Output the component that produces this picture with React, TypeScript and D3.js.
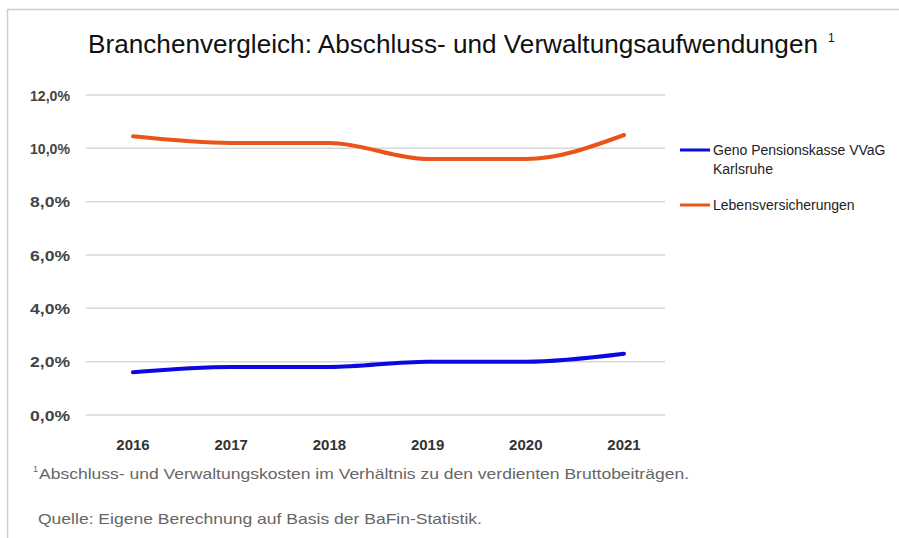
import React from "react";
import * as d3 from "d3";

const years = ["2016", "2017", "2018", "2019", "2020", "2021"];
const genoValues = [1.6, 1.8, 1.8, 2.0, 2.0, 2.3];
const lebenValues = [10.45, 10.2, 10.2, 9.6, 9.6, 10.5];
const yTicks = [0, 2, 4, 6, 8, 10, 12];
const seriesNames = ["Geno Pensionskasse VVaG", "Karlsruhe"];
const seriesNames2 = ["Lebensversicherungen"];
const title = "Branchenvergleich: Abschluss- und Verwaltungsaufwendungen";
const footnote = "Abschluss- und Verwaltungskosten im Verhältnis zu den verdienten Bruttobeiträgen.";
const source = "Quelle: Eigene Berechnung auf Basis der BaFin-Statistik.";

const W = 899;
const H = 538;
const BLUE = "#0a0ae0";
const ORANGE = "#ea5418";

export default function App() {
  const x = d3.scalePoint<string>().domain(years).range([133, 624]);
  const y = d3.scaleLinear().domain([0, 12]).range([415, 95]);
  const fmt = (v: number) => v.toFixed(1).replace(".", ",") + "%";
  const line = d3
    .line<number>()
    .x((_, i) => x(years[i]) as number)
    .y((d) => y(d))
    .curve(d3.curveMonotoneX);

  return (
    <svg
      width={W}
      height={H}
      style={{ position: "absolute", left: 0, top: 0, background: "#fff" }}
      fontFamily="'Liberation Sans', Arial, sans-serif"
    >
      <rect x={0} y={0} width={W} height={H} fill="#fff" />
      <line x1={7} y1={9.5} x2={W} y2={9.5} stroke="#cfcfcf" strokeWidth={1.5} />
      <line x1={7.5} y1={9} x2={7.5} y2={H} stroke="#cfcfcf" strokeWidth={1.5} />

      <text x={88} y={53} fontSize={25} fill="#111" textLength={730} lengthAdjust="spacingAndGlyphs">
        {title}
      </text>
      <text x={828} y={42} fontSize={12} fill="#111">1</text>

      {yTicks.map((t) => (
        <g key={t}>
          <line x1={86} x2={665} y1={y(t)} y2={y(t)} stroke="#d6d6d6" strokeWidth={1.5} />
          <text x={70} y={y(t) + 5.5} textAnchor="end" fontSize={15} fontWeight="bold" fill="#444" textLength={40} lengthAdjust="spacingAndGlyphs">
            {fmt(t)}
          </text>
        </g>
      ))}

      {years.map((yr) => (
        <text key={yr} x={x(yr)} y={450} textAnchor="middle" fontSize={15} fontWeight="bold" fill="#333">
          {yr}
        </text>
      ))}

      <path d={line(lebenValues) || ""} fill="none" stroke={ORANGE} strokeWidth={4} strokeLinecap="round" />
      <path d={line(genoValues) || ""} fill="none" stroke={BLUE} strokeWidth={4} strokeLinecap="round" />

      <line x1={680} x2={710} y1={150} y2={150} stroke={BLUE} strokeWidth={3} />
      <text x={713} y={155} fontSize={14} fill="#222">{seriesNames[0]}</text>
      <text x={713} y={174} fontSize={14} fill="#222">{seriesNames[1]}</text>
      <line x1={680} x2={710} y1={205} y2={205} stroke={ORANGE} strokeWidth={3} />
      <text x={713} y={210} fontSize={14} fill="#222">{seriesNames2[0]}</text>

      <text x={33} y={472} fontSize={9} fill="#666">1</text>
      <text x={39} y={479} fontSize={15} fill="#666" textLength={650} lengthAdjust="spacingAndGlyphs">
        {footnote}
      </text>
      <text x={38} y={524} fontSize={15} fill="#666" textLength={444} lengthAdjust="spacingAndGlyphs">
        {source}
      </text>
    </svg>
  );
}
